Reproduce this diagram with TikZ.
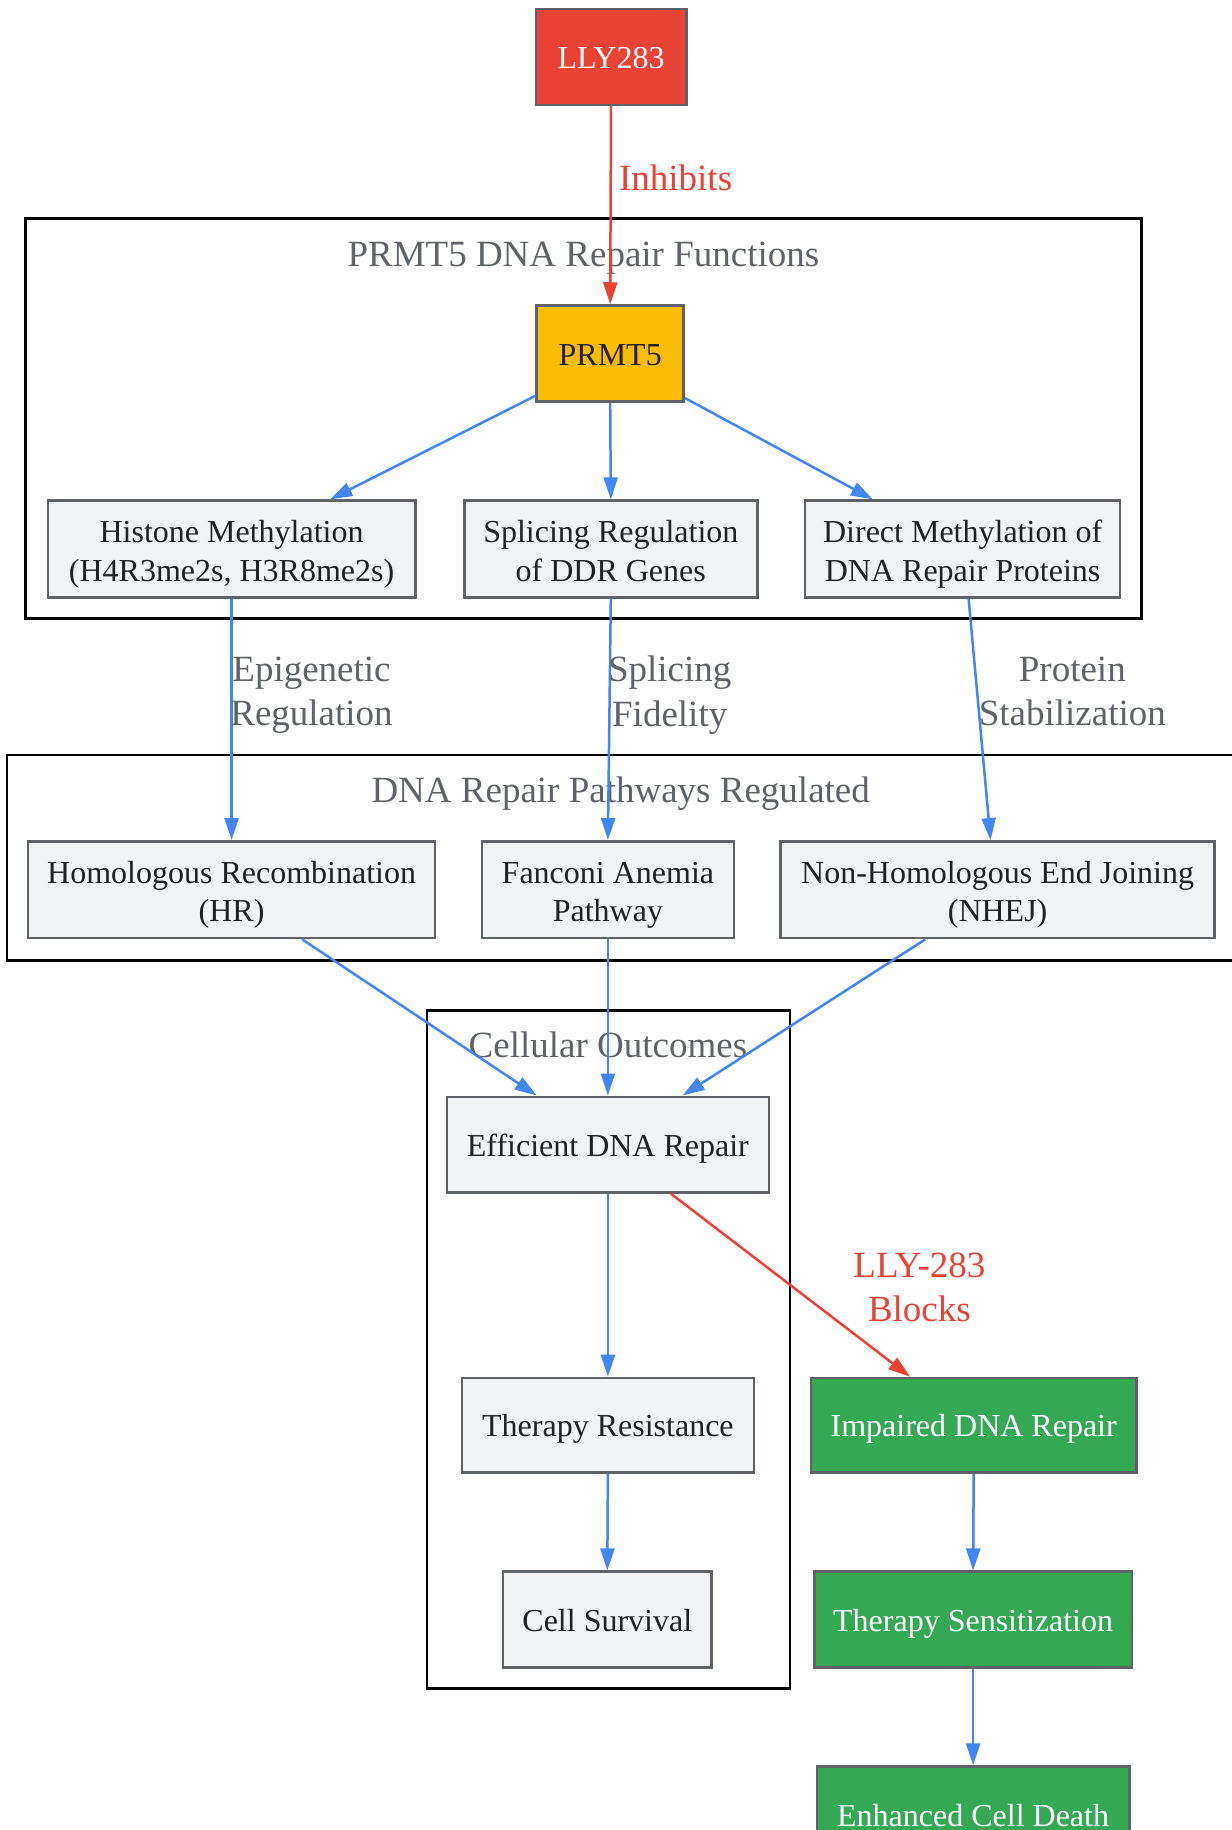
\documentclass[tikz,border=0pt]{standalone}
\usepackage{fontspec}
\setmainfont{Liberation Serif}
\usetikzlibrary{arrows.meta,calc}
\definecolor{gred}{HTML}{EA4335}
\definecolor{gyellow}{HTML}{FBBC04}
\definecolor{ggreen}{HTML}{34A853}
\definecolor{gblue}{HTML}{4285F4}
\definecolor{ggrayfill}{HTML}{F1F3F4}
\definecolor{ggrayline}{HTML}{5F6368}
\definecolor{gdark}{HTML}{202124}
\newcommand{\nstrut}{\rule[-7.5pt]{0pt}{38.4pt}}
\newcommand{\tstrut}{\rule{0pt}{33.4pt}}
\newcommand{\lstrut}{\rule[-8.7pt]{0pt}{44.4pt}}
\begin{document}
\begin{tikzpicture}[x=1pt,y=-1pt,
  box/.style={draw=ggrayline, line width=2.5pt, rectangle, align=center, inner sep=0pt,
    font=\fontsize{32}{38.4}\selectfont,
    execute at begin node=\nstrut, execute at end node=\nstrut},
  plain/.style={box, fill=ggrayfill, text=gdark},
  redbox/.style={box, fill=gred, text=white},
  yellowbox/.style={box, fill=gyellow, text=gdark},
  greenbox/.style={box, fill=ggreen, text=white},
  cluster/.style={draw=black, line width=2.8pt},
  lbl/.style={align=center, inner sep=0pt, font=\fontsize{37}{44.4}\selectfont,
    execute at begin node=\lstrut, execute at end node=\lstrut},
  ctitle/.style={lbl, text=ggrayline},
  elabel/.style={lbl, text=ggrayline},
  rlabel/.style={lbl, text=gred},
  arr/.style={draw=gblue, line width=2.5pt, -{Triangle[length=22pt,width=14pt]}},
  rarr/.style={draw=gred, line width=2.5pt, -{Triangle[length=22pt,width=14pt]}}
]
\useasboundingbox[fill=white] (0,0) rectangle (1231,1830);

% clusters
\draw[cluster] (25.7,218.2) rectangle (1141.1,618.4);
\node[ctitle] (t1) at (583.4,253.2) {PRMT5 DNA Repair Functions};
\draw[cluster] (7,754.9) rectangle (1245,960.3);
\node[ctitle] (t2) at (620.7,788.8) {DNA Repair Pathways Regulated};
\draw[cluster] (427,1010.4) rectangle (789.9,1688.4);
\node[ctitle] (t3) at (607.9,1044.3) {Cellular Outcomes};

% nodes
\node[redbox, minimum width=150.5pt, minimum height=96pt] (lly) at (611,57) {LLY283};
\node[yellowbox, minimum width=147pt, minimum height=96pt] (prmt5) at (610.2,353.5) {PRMT5};
\node[plain, minimum width=367.6pt, minimum height=96.8pt] (hist) at (231.6,549) {\tstrut Histone Methylation\\(H4R3me2s, H3R8me2s)};
\node[plain, minimum width=293pt, minimum height=96.8pt] (splic) at (610.8,549) {\tstrut Splicing Regulation\\of DDR Genes};
\node[plain, minimum width=315pt, minimum height=96.8pt] (direct) at (962.6,549) {\tstrut Direct Methylation of\\DNA Repair Proteins};
\node[plain, minimum width=407.2pt, minimum height=96.8pt] (hr) at (231.6,889.7) {\tstrut Homologous Recombination\\(HR)};
\node[plain, minimum width=252pt, minimum height=96.8pt] (fa) at (607.9,889.7) {\tstrut Fanconi Anemia\\Pathway};
\node[plain, minimum width=434pt, minimum height=96.8pt] (nhej) at (997.6,889.7) {\tstrut Non-Homologous End Joining\\(NHEJ)};
\node[plain, minimum width=322pt, minimum height=95.7pt] (eff) at (607.9,1144.6) {Efficient DNA Repair};
\node[plain, minimum width=291.7pt, minimum height=94.5pt] (res) at (607.9,1425.2) {Therapy Resistance};
\node[plain, minimum width=208.8pt, minimum height=95.7pt] (surv) at (607.3,1619.5) {Cell Survival};
\node[greenbox, minimum width=325.6pt, minimum height=94.5pt] (imp) at (973.7,1425.2) {Impaired DNA Repair};
\node[greenbox, minimum width=317.4pt, minimum height=95.7pt] (sens) at (973.1,1619.5) {Therapy Sensitization};
\node[greenbox, minimum width=312.7pt, minimum height=96pt] (death) at (973.1,1814.5) {Enhanced Cell Death};

% edges
\draw[rarr] (lly.south) -- (prmt5.north);
\draw[arr] ([yshift=7pt]prmt5.south west) -- ([xshift=98.6pt]hist.north);
\draw[arr] (prmt5.south) -- (splic.north);
\draw[arr] ([yshift=4.7pt]prmt5.south east) -- ([xshift=-89.8pt]direct.north);
\draw[arr] (hist.south) -- (hr.north);
\draw[arr] (splic.south) -- (fa.north);
\draw[arr] ([xshift=6pt]direct.south) -- ([xshift=-7pt]nhej.north);
\draw[arr] ([xshift=70.6pt]hr.south) -- ([xshift=-71.2pt]eff.north);
\draw[arr] (fa.south) -- (eff.north);
\draw[arr] ([xshift=-72.3pt]nhej.south) -- ([xshift=74.7pt]eff.north);
\draw[arr] (eff.south) -- (res.north);
\draw[arr] (res.south) -- (surv.north);
\draw[rarr] ([xshift=63pt]eff.south) -- ([xshift=-63.6pt]imp.north);
\draw[arr] (imp.south) -- (sens.north);
\draw[arr] (sens.south) -- (death.north);

% edge labels
\node[rlabel] (l1) at (675.6,177.4) {Inhibits};
\node[elabel] (l2) at (311.5,695.4) {Epigenetic\\Regulation};
\node[elabel] (l3) at (669.7,695.4) {Splicing\\Fidelity};
\node[elabel] (l4) at (1072.3,695.4) {Protein\\Stabilization};
\node[rlabel] (l5) at (919.4,1291.6) {LLY-283\\Blocks};
\end{tikzpicture}
\end{document}
